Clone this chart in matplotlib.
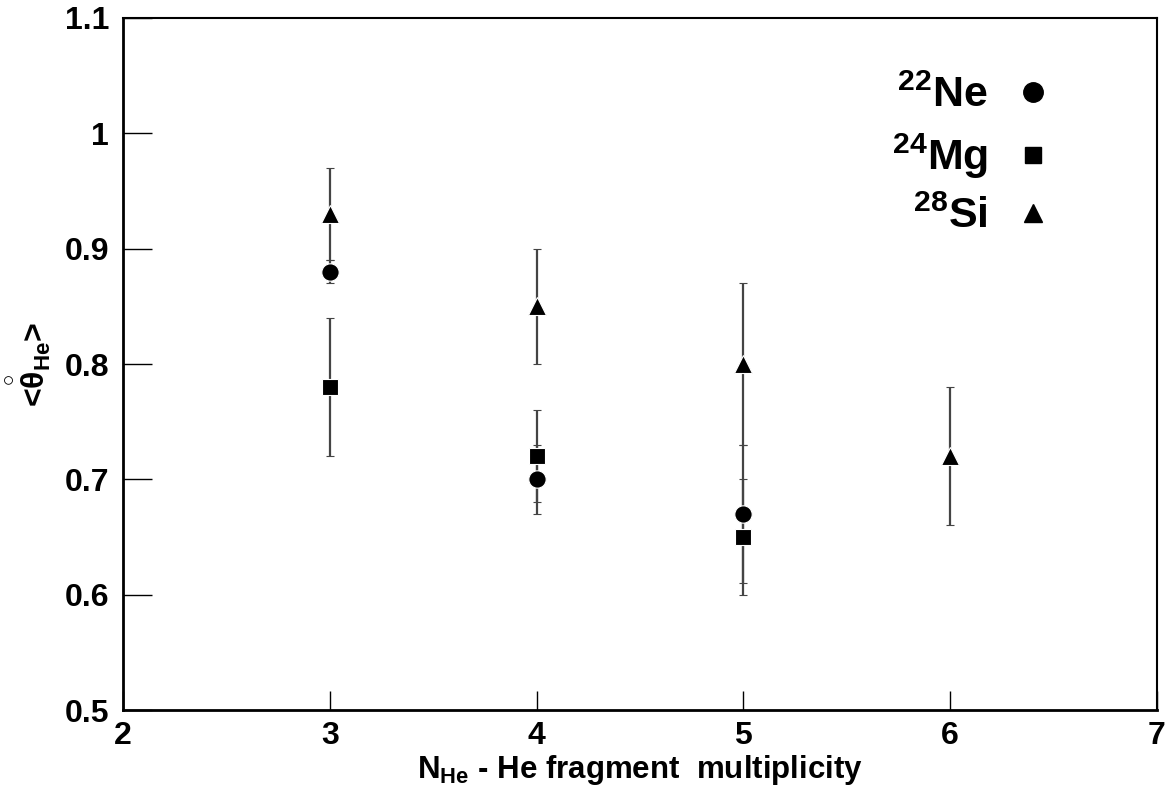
import matplotlib.pyplot as plt

plt.rcParams['font.family'] = ['Liberation Sans', 'DejaVu Sans']
plt.rcParams['font.weight'] = 'bold'
plt.rcParams['axes.labelweight'] = 'bold'
plt.rcParams['mathtext.fontset'] = 'custom'
plt.rcParams['mathtext.rm'] = 'Liberation Sans:bold'
plt.rcParams['mathtext.it'] = 'Liberation Sans:bold'
plt.rcParams['mathtext.bf'] = 'Liberation Sans:bold'

# N_He multiplicity and mean angle with errors
ne_x = [3, 4, 5]
ne_y = [0.88, 0.70, 0.67]
ne_err = [0.01, 0.03, 0.06]

mg_x = [3, 4, 5]
mg_y = [0.78, 0.72, 0.65]
mg_err = [0.06, 0.04, 0.05]

si_x = [3, 4, 5, 6]
si_y = [0.93, 0.85, 0.80, 0.72]
si_err = [0.04, 0.05, 0.07, 0.06]

xticks = [2, 3, 4, 5, 6, 7]
yticks = [0.5, 0.6, 0.7, 0.8, 0.9, 1.0, 1.1]
ytick_labels = ['0.5', '0.6', '0.7', '0.8', '0.9', '1', '1.1']

fig = plt.figure(figsize=(11.65, 7.89), dpi=100)
ax = fig.add_axes([0.1056, 0.1001, 0.8875, 0.8771])

err_style = dict(ecolor='#444444', elinewidth=1.6, capsize=3, capthick=1.5,
                 linestyle='none', color='black', markeredgecolor='white',
                 markeredgewidth=0.8)
ax.errorbar(si_x, si_y, yerr=si_err, marker='^', markersize=13, **err_style)
ax.errorbar(mg_x, mg_y, yerr=mg_err, marker='s', markersize=12, **err_style)
ax.errorbar(ne_x, ne_y, yerr=ne_err, marker='o', markersize=12.5, **err_style)

# legend
h1, = ax.plot([], [], 'o', color='black', markersize=14)
h2, = ax.plot([], [], 's', color='black', markersize=12)
h3, = ax.plot([], [], '^', color='black', markersize=13)
ax.legend([h1, h2, h3], [r'$^{22}$Ne', r'$^{24}$Mg', r'$^{28}$Si'],
          loc='upper right', bbox_to_anchor=(0.93, 0.96), frameon=False,
          markerfirst=False, fontsize=31, handlelength=1.0, handletextpad=0.55,
          labelspacing=0.36, borderpad=0.2)

ax.set_xlim(2, 7)
ax.set_ylim(0.5, 1.1)
ax.set_xticks(xticks)
ax.set_xticklabels([str(t) for t in xticks])
ax.set_yticks(yticks)
ax.set_yticklabels(ytick_labels)
ax.tick_params(axis='both', direction='in', labelsize=23, width=1)
ax.tick_params(axis='x', length=14, pad=8)
ax.tick_params(axis='y', length=21, pad=10)
ax.minorticks_off()

for s in ['left', 'bottom']:
    ax.spines[s].set_linewidth(2)
for s in ['top', 'right']:
    ax.spines[s].set_linewidth(1.5)

ax.set_xlabel(r'N$_{\rm He}$ - He fragment  multiplicity', fontsize=22.5, labelpad=1)
ax.set_ylabel(r'<$\overset{\circ}{\theta}_{\rm He}$>', fontsize=23, labelpad=8)

fig.savefig('out.png', dpi=100)
